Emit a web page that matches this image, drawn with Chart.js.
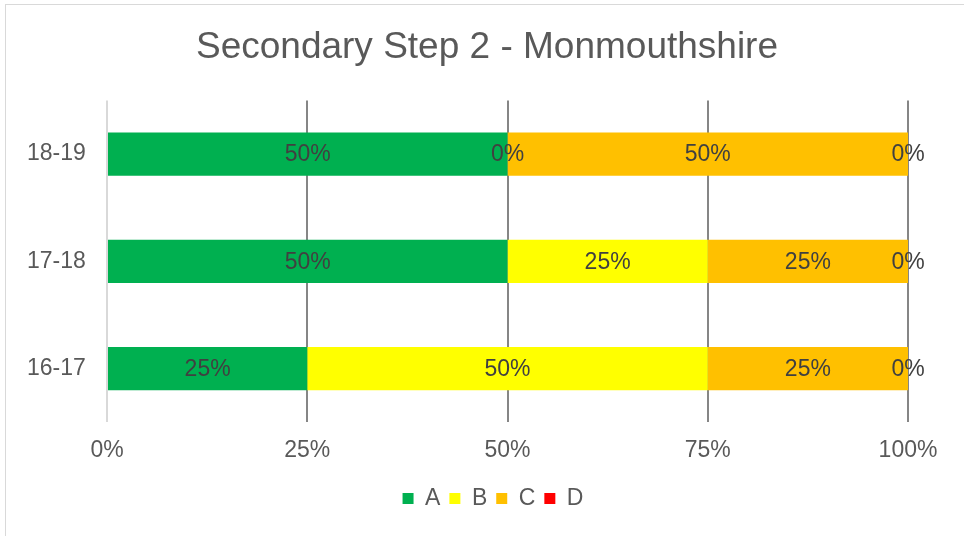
<!DOCTYPE html>
<html>
<head>
<meta charset="utf-8">
<script src="https://cdn.jsdelivr.net/npm/chart.js@4"></script>
<style>
    body { margin: 0; background: #fff; }
    #wrap { position: relative; width: 964px; height: 536px; }
    #frame { position: absolute; left: 5px; top: 4px; width: 970px; height: 540px; border: 1px solid #d9d9d9; pointer-events: none; }
</style>
</head>
<body>
<div id="wrap">
    <canvas id="gradesChart" width="964" height="536"></canvas>
    <div id="frame"></div>
</div>
<script>
const years = ['18-19', '17-18', '16-17'];
const gradeA = [50, 50, 25];
const gradeB = [0, 25, 50];
const gradeC = [50, 25, 25];
const gradeD = [0, 0, 0];
const xTicks = [0, 25, 50, 75, 100];

const fontFamily = "'Liberation Sans', Arial, sans-serif";

// draws the value in the middle of each segment, like the excel labels
const segmentLabels = {
    id: 'segmentLabels',
    afterDatasetsDraw(chart) {
        const ctx = chart.ctx;
        ctx.save();
        ctx.font = '23px ' + fontFamily;
        ctx.fillStyle = '#404040';
        ctx.textAlign = 'center';
        ctx.textBaseline = 'middle';
        chart.data.datasets.forEach((ds, i) => {
            const meta = chart.getDatasetMeta(i);
            meta.data.forEach((bar, j) => {
                const cx = (bar.x + bar.base) / 2;
                ctx.fillText(ds.data[j] + '%', cx, bar.y + 1);
            });
        });
        ctx.restore();
    }
};

// nudge the legend a little right, excel centres it on the plot not the whole chart
const legendNudge = {
    id: 'legendNudge',
    afterLayout(chart) {
        if (chart.legend) {
            chart.legend.left += 6;
            chart.legend.right += 6;
        }
    }
};

const ctx = document.getElementById('gradesChart').getContext('2d');
new Chart(ctx, {
    type: 'bar',
    data: {
        labels: years,
        datasets: [
            { label: 'A', data: gradeA, backgroundColor: '#00b050' },
            { label: 'B', data: gradeB, backgroundColor: '#ffff00' },
            { label: 'C', data: gradeC, backgroundColor: '#ffc000' },
            { label: 'D', data: gradeD, backgroundColor: '#ff0000' }
        ]
    },
    options: {
        indexAxis: 'y',
        responsive: false,
        animation: false,
        barPercentage: 0.84,
        categoryPercentage: 0.48,
        layout: { padding: { left: 66, right: 56, top: 18, bottom: 16 } },
        plugins: {
            title: {
                display: true,
                text: 'Secondary Step 2 - Monmouthshire',
                color: '#595959',
                font: { family: fontFamily, size: 37, weight: 'normal' },
                padding: { top: 8, bottom: 30 }
            },
            legend: {
                position: 'bottom',
                labels: {
                    color: '#595959',
                    font: { family: fontFamily, size: 23 },
                    boxWidth: 11,
                    boxHeight: 11,
                    padding: 9
                }
            },
            tooltip: { enabled: false }
        },
        scales: {
            x: {
                stacked: true,
                min: 0,
                max: 100,
                afterBuildTicks: axis => { axis.ticks = xTicks.map(v => ({ value: v })); },
                ticks: {
                    color: '#595959',
                    font: { family: fontFamily, size: 23 },
                    padding: 14,
                    callback: v => v + '%'
                },
                grid: {
                    color: c => c.tick && c.tick.value === 0 ? '#d9d9d9' : '#868686',
                    lineWidth: 2,
                    drawTicks: false
                },
                border: { display: false }
            },
            y: {
                stacked: true,
                // narrow axis so the title stays centred like excel; mirrored labels pulled left so they are not clipped
                afterFit: axis => { axis.width = 41; },
                ticks: {
                    color: '#595959',
                    font: { family: fontFamily, size: 23 },
                    mirror: true,
                    padding: -80
                },
                grid: { display: false, drawTicks: false },
                border: { display: false }
            }
        }
    },
    plugins: [segmentLabels, legendNudge]
});
</script>
</body>
</html>
